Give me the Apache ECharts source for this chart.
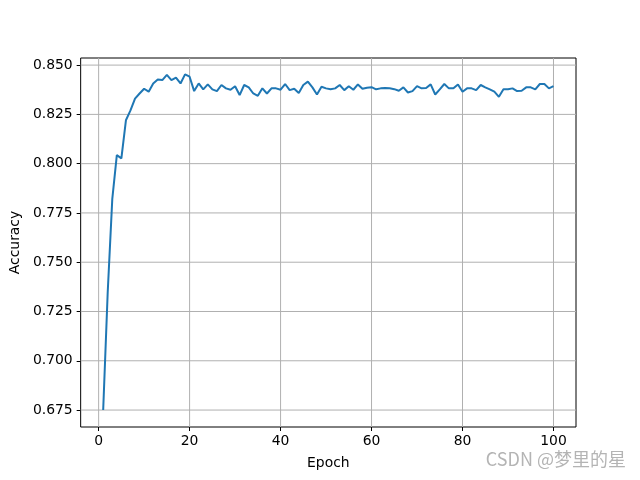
<!DOCTYPE html>
<html>
<head>
<meta charset="utf-8">
<script src="https://cdn.jsdelivr.net/npm/echarts@6/dist/echarts.min.js"></script>
<style>html,body{margin:0;padding:0;background:#fff}#c{width:640px;height:480px}</style>
</head>
<body>
<div id="c"></div>
<script>
const epochs = Array.from({length: 100}, (_, i) => i + 1);
const accuracy = [
  0.675, 0.735, 0.782, 0.8043, 0.8027, 0.822, 0.827, 0.833, 0.8356, 0.838,
  0.8365, 0.8407, 0.8427, 0.8424, 0.845, 0.8424, 0.8436, 0.8407, 0.8453, 0.8441,
  0.8368, 0.8407, 0.8377, 0.8402, 0.8377, 0.8368, 0.8399, 0.8382, 0.8375, 0.8393,
  0.8348, 0.8399, 0.8387, 0.8356, 0.8344, 0.8382, 0.8356, 0.8382, 0.8382, 0.8375,
  0.8404, 0.8373, 0.838, 0.8358, 0.8399, 0.8416, 0.8387, 0.8351, 0.839, 0.8382,
  0.8377, 0.8382, 0.8399, 0.8373, 0.8393, 0.8375, 0.8402, 0.838, 0.8385, 0.8388,
  0.8377, 0.8382, 0.8384, 0.8382, 0.8378, 0.837, 0.8387, 0.8361, 0.8368, 0.8393,
  0.8382, 0.8384, 0.8402, 0.8351, 0.8377, 0.8404, 0.8382, 0.8382, 0.8402, 0.8365,
  0.8382, 0.8382, 0.8373, 0.8399, 0.8387, 0.8377, 0.8365, 0.8339, 0.8377, 0.8377,
  0.8382, 0.8368, 0.837, 0.8387, 0.8387, 0.8377, 0.8404, 0.8404, 0.8382, 0.8393
];
const xTicks = [0, 20, 40, 60, 80, 100];
const yTicks = [0.675, 0.700, 0.725, 0.750, 0.775, 0.800, 0.825, 0.850];
const xLabel = 'Epoch';
const yLabel = 'Accuracy';
const watermark = 'CSDN @梦里的星';

const X_MIN = -3.95, X_MAX = 104.95, Y_MIN = 0.6664, Y_MAX = 0.8536;
const font = 'DejaVu Sans';
const gridStyle = {color: '#b0b0b0', width: 1};
const gridSeries = [];
xTicks.forEach(v => gridSeries.push({
  type: 'line', data: [[v, Y_MIN], [v, Y_MAX]], z: 1, silent: true, symbol: 'none',
  lineStyle: gridStyle, animation: false
}));
yTicks.forEach(v => gridSeries.push({
  type: 'line', data: [[X_MIN, v], [X_MAX, v]], z: 1, silent: true, symbol: 'none',
  lineStyle: gridStyle, animation: false
}));

const chart = echarts.init(document.getElementById('c'), null, {renderer: 'canvas'});
const pts = epochs.map((e, i) => [e, accuracy[i]]);
chart.setOption({
  animation: false,
  backgroundColor: '#fff',
  grid: {left: 80, right: 64, top: 58, bottom: 53, show: true, borderColor: '#000', borderWidth: 1, backgroundColor: 'transparent'},
  xAxis: {
    type: 'value', min: X_MIN, max: X_MAX,
    name: xLabel, nameLocation: 'middle', nameGap: 29,
    nameTextStyle: {fontFamily: font, fontSize: 13.9, color: '#000'},
    axisLine: {show: false, onZero: false},
    axisTick: {show: true, inside: false, length: 4, customValues: xTicks, lineStyle: {color: '#000', width: 1}},
    axisLabel: {customValues: xTicks, margin: 7, fontFamily: font, fontSize: 13.9, color: '#000', formatter: v => String(v)},
    splitLine: {show: false}
  },
  yAxis: {
    type: 'value', min: Y_MIN, max: Y_MAX,
    name: yLabel, nameLocation: 'middle', nameGap: 51, nameRotate: 90,
    nameTextStyle: {fontFamily: font, fontSize: 13.9, color: '#000'},
    axisLine: {show: false, onZero: false},
    axisTick: {show: true, inside: false, length: 4, customValues: yTicks, lineStyle: {color: '#000', width: 1}},
    axisLabel: {customValues: yTicks, margin: 8, fontFamily: font, fontSize: 13.9, color: '#000', formatter: v => v.toFixed(3)},
    splitLine: {show: false}
  },
  graphic: [{
    type: 'text', right: 14, top: 450,
    style: {text: watermark, fontFamily: 'Noto Sans CJK SC', fontSize: 18, fill: '#b4b4b4'}
  }],
  series: gridSeries.concat([
    {
      type: 'line', data: pts, z: 3, symbol: 'none',
      lineStyle: {color: '#1f77b4', width: 2}
    }
  ])
});
</script>
</body>
</html>
